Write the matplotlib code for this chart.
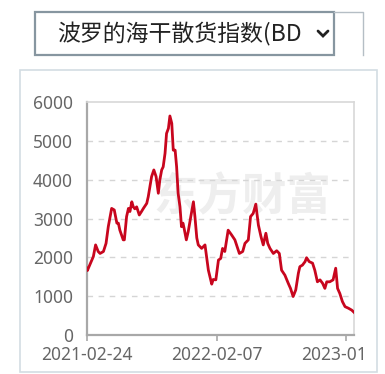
import matplotlib
matplotlib.use("Agg")
import matplotlib.pyplot as plt
from matplotlib.patches import Rectangle
from matplotlib.lines import Line2D
from matplotlib.transforms import ScaledTranslation
import pandas as pd

title_text = "波罗的海干散货指数(BD"
watermark_text = "东方财富"
dates = [
    "2021-02-24", "2021-02-25", "2021-03-09", "2021-03-13", "2021-03-19", "2021-03-26", "2021-03-31",
    "2021-04-09", "2021-04-16", "2021-04-22", "2021-05-01", "2021-05-08", "2021-05-15", "2021-05-19",
    "2021-05-23", "2021-06-01", "2021-06-04", "2021-06-10", "2021-06-15", "2021-06-19", "2021-06-24",
    "2021-06-28", "2021-07-02", "2021-07-07", "2021-07-14", "2021-07-20", "2021-07-25", "2021-08-03",
    "2021-08-07", "2021-08-16", "2021-08-22", "2021-08-28", "2021-09-03", "2021-09-07", "2021-09-12",
    "2021-09-16", "2021-09-21", "2021-09-25", "2021-09-30", "2021-10-04", "2021-10-09", "2021-10-13",
    "2021-10-18", "2021-10-22", "2021-10-26", "2021-10-31", "2021-11-04", "2021-11-08", "2021-11-11",
    "2021-11-17", "2021-11-22", "2021-11-29", "2021-12-06", "2021-12-10", "2021-12-15", "2021-12-19",
    "2021-12-28", "2022-01-06", "2022-01-15", "2022-01-24", "2022-01-28", "2022-02-04", "2022-02-11",
    "2022-02-17", "2022-02-22", "2022-02-28", "2022-03-09", "2022-03-18", "2022-03-27", "2022-04-08",
    "2022-04-17", "2022-04-23", "2022-05-02", "2022-05-08", "2022-05-15", "2022-05-22", "2022-05-29",
    "2022-06-05", "2022-06-11", "2022-06-18", "2022-06-23", "2022-06-29", "2022-07-08", "2022-07-17",
    "2022-07-24", "2022-07-30", "2022-08-08", "2022-08-17", "2022-08-23", "2022-08-30", "2022-09-06",
    "2022-09-13", "2022-09-17", "2022-09-24", "2022-10-01", "2022-10-05", "2022-10-12", "2022-10-21",
    "2022-10-27", "2022-11-03", "2022-11-10", "2022-11-17", "2022-11-23", "2022-11-28", "2022-12-06",
    "2022-12-15", "2022-12-22", "2022-12-27", "2023-01-02", "2023-01-09", "2023-01-16", "2023-01-25",
    "2023-02-03", "2023-02-09",
]
bdi = [
    1720, 1660, 1930, 2020, 2320, 2150, 2100, 2150, 2360, 2790, 3260, 3220, 2880, 2880, 2700,
    2450, 2450, 3050, 3260, 3180, 3430, 3300, 3250, 3300, 3090, 3180, 3260, 3390, 3560, 4080,
    4250, 4080, 3650, 3990, 4250, 4330, 4680, 5190, 5320, 5640, 5450, 4760, 4760, 4330, 3650,
    3300, 2790, 2880, 2750, 2450, 2660, 3050, 3430, 3050, 2500, 2320, 2230, 2320, 1670, 1310,
    1430, 1420, 1930, 1970, 2230, 2150, 2700, 2580, 2450, 2100, 2150, 2360, 2450, 3050, 3130,
    3370, 2830, 2530, 2320, 2620, 2360, 2230, 2100, 2170, 2100, 1670, 1540, 1330, 1200, 990,
    1160, 1590, 1760, 1800, 1890, 1990, 1890, 1850, 1670, 1370, 1420, 1330, 1200, 1370, 1370,
    1420, 1720, 1200, 1070, 860, 730, 690, 640, 585,
]
x_tick_dates = ["2021-02-24", "2022-02-07", "2023-01-18"]
x_tick_labels = ["2021-02-24", "2022-02-07", "2023-01"]
y_ticks = [0, 1000, 2000, 3000, 4000, 5000, 6000]
x_range = ["2021-02-24", "2023-02-09"]

plt.rcParams['font.family'] = ['Noto Sans', 'Noto Sans CJK SC', 'DejaVu Sans']

W, H = 385, 374
fig = plt.figure(figsize=(W / 100, H / 100), dpi=100)
fig.patch.set_facecolor('white')

def fx(px):
    return px / W

def fy(py):
    return 1 - py / H

# outer panel border
panel = Rectangle((fx(20), fy(372)), fx(377) - fx(20), fy(70) - fy(372),
                  transform=fig.transFigure, fill=False, edgecolor='#d3dde3', linewidth=1.2)
fig.add_artist(panel)

# dropdown title box
box = Rectangle((fx(35), fy(55)), fx(334) - fx(35), fy(12) - fy(55),
                transform=fig.transFigure, fill=False, edgecolor='#8796a0', linewidth=1.6)
fig.add_artist(box)
fig.add_artist(Line2D([fx(334), fx(363), fx(363)], [fy(12), fy(12), fy(55)],
                      transform=fig.transFigure, color='#b5bec5', linewidth=1.0))
fig.text(fx(57), fy(34), title_text, fontsize=16.5, color='#222222', ha='left', va='center',
         family=['Noto Sans CJK SC', 'DejaVu Sans'])
fig.add_artist(Line2D([fx(318), fx(323), fx(328)], [fy(31), fy(36), fy(31)],
                      transform=fig.transFigure, color='#222222', linewidth=2.0,
                      solid_capstyle='round', solid_joinstyle='miter'))

ax = fig.add_axes([fx(87), fy(335), fx(354) - fx(87), fy(102) - fy(335)])
ax.set_facecolor('none')

# watermark (beneath the line)
ax.text(fx(242), fy(197), watermark_text, transform=fig.transFigure, fontsize=32,
        color='#eeeeee', ha='center', va='center', fontweight='bold', zorder=0,
        clip_on=False, family=['Noto Sans CJK SC', 'DejaVu Sans'])

d = pd.to_datetime(dates)
ax.plot(d, bdi, color='#c8061e', linewidth=2.0, zorder=3, solid_joinstyle='round')

ax.set_ylim(0, 6000)
ax.set_xlim(pd.to_datetime(x_range[0]), pd.to_datetime(x_range[1]))
ax.set_yticks(y_ticks)
ax.set_yticklabels([str(v) for v in y_ticks])
ax.set_xticks(pd.to_datetime(x_tick_dates))
ax.set_xticklabels(x_tick_labels)

for v in y_ticks[1:-1]:
    ax.axhline(v, color='#d5d5d5', linewidth=1.0, linestyle=(0, (4, 4)), zorder=1)

for s in ['left', 'bottom']:
    ax.spines[s].set_color('#a8a8a8')
    ax.spines[s].set_linewidth(1.6)
for s in ['top', 'right']:
    ax.spines[s].set_color('#d8d8d8')
    ax.spines[s].set_linewidth(1.2)

ax.tick_params(axis='y', length=0, pad=10, labelsize=12.5, labelcolor='#666666')
ax.tick_params(axis='x', length=4, width=1.2, color='#a8a8a8', pad=4,
               labelsize=12.5, labelcolor='#666666')

last = ax.get_xticklabels()[-1]
last.set_transform(last.get_transform() + ScaledTranslation(-0.12, 0, fig.dpi_scale_trans))

fig.savefig("out.png", dpi=100, facecolor='white')
